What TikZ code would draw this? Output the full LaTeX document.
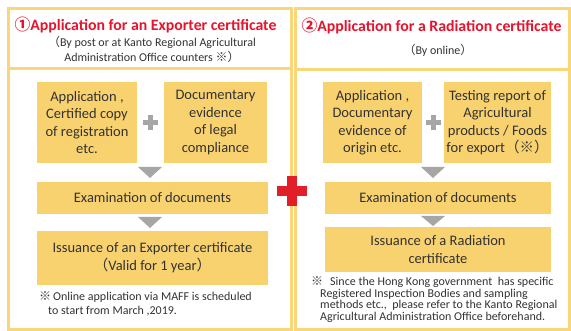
\documentclass[tikz,border=0pt]{standalone}
\usepackage{fontspec}
\usetikzlibrary{calc}
\setmainfont{Carlito}
\newfontfamily\cjk{Noto Sans CJK JP}
\newcommand\kome{{\cjk ※}}
\newcommand\zlp{{\cjk （}}
\newcommand\zrp{{\cjk ）}}
\definecolor{boxy}{RGB}{249,210,112}
\definecolor{framey}{RGB}{250,214,122}
\definecolor{grayt}{RGB}{166,166,166}
\definecolor{redt}{RGB}{228,20,45}
\definecolor{redx}{RGB}{226,30,40}
\definecolor{txt}{RGB}{50,50,50}
\tikzset{
  frame/.style={draw=framey, line width=3pt},
  ybox/.style={fill=boxy, draw=none, inner sep=0pt, align=center, text=txt,
    font=\fontsize{14.5}{17.5}\selectfont},
  titletext/.style={inner sep=0pt, text=redt, font=\bfseries\fontsize{15.8}{17}\selectfont},
  subtext/.style={inner sep=0pt, text=txt, align=center, font=\fontsize{12}{15}\selectfont},
  notetext/.style={inner sep=0pt, text=txt, align=left, anchor=west},
  tri/.style={fill=grayt, draw=none},
  plusg/.style={fill=grayt, draw=none},
}
\begin{document}
\begin{tikzpicture}[x=1pt,y=-1pt]
\useasboundingbox (0,0) rectangle (571,331);
% panels
\draw[frame] (8,8.5) rectangle (291,329.5);
\draw[frame] (8,69) -- (291,69);
\draw[frame] (295.5,8.5) rectangle (569.5,329.5);
\draw[frame] (295.5,70) -- (569.5,70);
% left header
\node[titletext] (t1) at (145.5,25) {{\cjk\bfseries ①}Application for an Exporter certificate};
\node[subtext] (s1) at (152,49.5) {\zlp By post or at Kanto Regional Agricultural\\Administration Office counters \kome\zrp};
% right header
\node[titletext] (t2) at (431.5,26) {{\cjk\bfseries ②}Application for a Radiation certificate};
\node[subtext] (s2) at (438,50) {\zlp By online\zrp};
% left boxes
\node[ybox, minimum width=100pt, minimum height=81pt] (a1) at (87,122.5)
  {Application ,\\Certified copy\\of registration\\etc.};
\node[ybox, minimum width=103pt, minimum height=81pt] (a2) at (215.5,122.5)
  {Documentary\\evidence\\of legal\\compliance};
\node[ybox, minimum width=231pt, minimum height=32pt] (a3) at (152.5,198)
  {Examination of documents};
\node[ybox, minimum width=231pt, minimum height=54pt, font=\fontsize{14.5}{18}\selectfont] (a4) at (152.5,258)
  {Issuance of an Exporter certificate\\\zlp Valid for 1 year\zrp};
\node[notetext, font=\fontsize{12}{14}\selectfont] (n1) at (39,304)
  {\kome\,Online application via MAFF is scheduled\\\hspace*{9pt}to start from March ,2019.};
% right boxes
\node[ybox, minimum width=99pt, minimum height=81pt] (b1) at (372.5,122.5)
  {Application ,\\Documentary\\evidence of\\origin etc.};
\node[ybox, minimum width=107pt, minimum height=81pt] (b2) at (497.5,122.5)
  {Testing report of\\Agricultural\\products / Foods\\for export\zlp\kome\zrp};
\node[ybox, minimum width=226pt, minimum height=32pt] (b3) at (438,198)
  {Examination of documents};
\node[ybox, minimum width=226pt, minimum height=45pt, font=\fontsize{14.5}{18}\selectfont] (b4) at (438,249.5)
  {Issuance of a Radiation\\certificate};
\node[notetext, font=\fontsize{12}{11.7}\selectfont] (n2) at (311,299.5)
  {\kome\hspace{7pt}Since the Hong Kong government\ \ has specific\\
   \hspace*{9pt}Registered Inspection Bodies and sampling\\
   \hspace*{9pt}methods etc.,\ \ please refer to the Kanto Regional\\
   \hspace*{9pt}Agricultural Administration Office beforehand.};
% plus signs
\coordinate (p1) at ($(a1.east)!0.5!(a2.west)$);
\fill[plusg] ([xshift=-7.5pt,yshift=-2.5pt]p1) rectangle ([xshift=7.5pt,yshift=2.5pt]p1);
\fill[plusg] ([xshift=-2.5pt,yshift=-7.5pt]p1) rectangle ([xshift=2.5pt,yshift=7.5pt]p1);
\coordinate (p2) at ($(b1.east)!0.5!(b2.west)$);
\fill[plusg] ([xshift=-7.5pt,yshift=-2.5pt]p2) rectangle ([xshift=7.5pt,yshift=2.5pt]p2);
\fill[plusg] ([xshift=-2.5pt,yshift=-7.5pt]p2) rectangle ([xshift=2.5pt,yshift=7.5pt]p2);
% triangles
\fill[tri] (138,167) -- (162,167) -- (150,178) -- cycle;
\fill[tri] (138,217) -- (162,217) -- (150,228) -- cycle;
\fill[tri] (421,167) -- (445,167) -- (433,178) -- cycle;
\fill[tri] (421,216) -- (445,216) -- (433,226) -- cycle;
% red cross
\fill[redx] (277,186) rectangle (307,196);
\fill[redx] (287,176) rectangle (297,206);
\end{tikzpicture}
\end{document}
